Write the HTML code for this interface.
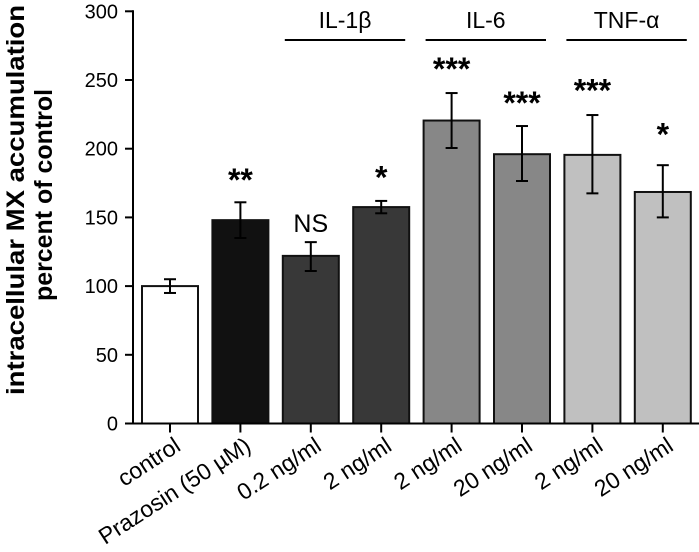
<!DOCTYPE html>
<html><head><meta charset="utf-8"><style>
html,body{margin:0;padding:0;background:#fff;}
svg{display:block;font-family:"Liberation Sans",sans-serif;}
</style></head><body>
<svg id="chart" width="699" height="552"></svg>
<script>
const categories = ["control","Prazosin (50 \u00b5M)","0.2 ng/ml","2 ng/ml","2 ng/ml","20 ng/ml","2 ng/ml","20 ng/ml"];
const values = [100,148,122,157.5,220.5,196,195.5,168.5];
const errHigh = [105,161,132,162,240.5,216.5,224.5,188];
const errLow = [95,135,111,153,200.5,176.5,167.5,150];
const sigLabels = ["","**","NS","*","***","***","***","*"];
const sigValues = [0,183,146,185,264,239,248,216];
const fills = ["#ffffff","#111111","#383838","#383838","#878787","#878787","#c0c0c0","#c0c0c0"];
const yTicks = [0,50,100,150,200,250,300];
const groups = [{name:"IL-1\u03b2",from:2,to:3},{name:"IL-6",from:4,to:5},{name:"TNF-\u03b1",from:6,to:7}];

const NS="http://www.w3.org/2000/svg";
const svg=document.getElementById('chart');
const y0=423.5, pxPer=1.374;
function yScale(v){return y0 - v*pxPer;}
function xCenter(i){return 170 + 70.4*i;}
const barW=56;
function mk(tag,attrs,parent){const e=document.createElementNS(NS,tag);for(const k in attrs)e.setAttribute(k,attrs[k]);(parent||svg).appendChild(e);return e;}

values.forEach((v,i)=>{
  const r=mk('rect',{x:xCenter(i)-barW/2,y:yScale(v),width:barW,height:y0-yScale(v),fill:fills[i],stroke:'#111','stroke-width':2});
  
  
  const g=mk('g',{stroke:'#000','stroke-width':2});
  
  
  const cx=xCenter(i);
  mk('line',{x1:cx,x2:cx,y1:yScale(errHigh[i]),y2:yScale(errLow[i])},g);
  mk('line',{x1:cx-6,x2:cx+6,y1:yScale(errHigh[i]),y2:yScale(errHigh[i])},g);
  mk('line',{x1:cx-6,x2:cx+6,y1:yScale(errLow[i]),y2:yScale(errLow[i])},g);
  if(sigLabels[i]){
    const isNS=sigLabels[i]==='NS';
    const t=mk('text',{x:cx,y:yScale(sigValues[i])+(isNS?9:19),'text-anchor':'middle','font-size':isNS?25:32,'font-weight':isNS?'normal':'bold',fill:'#000'});
    t.textContent=sigLabels[i];
    
    
  }
  const lbl=mk('text',{x:0,y:0,'text-anchor':'end','font-size':23,fill:'#000',transform:`translate(${cx+12},${y0+26}) rotate(-33)`});
  lbl.textContent=categories[i];
  
  
  const tk=mk('line',{x1:cx,x2:cx,y1:y0,y2:y0+9,stroke:'#000','stroke-width':2});
  
  
});

const ya=mk('line',{x1:133,x2:133,y1:yScale(300)-1,y2:y0+1,stroke:'#000','stroke-width':2});


const xa=mk('line',{x1:132,x2:699,y1:y0,y2:y0,stroke:'#000','stroke-width':2});


yTicks.forEach(v=>{
  const l=mk('line',{x1:125,x2:133,y1:yScale(v),y2:yScale(v),stroke:'#000','stroke-width':2});
  
  
  const t=mk('text',{x:118,y:yScale(v)+7,'text-anchor':'end','font-size':20,fill:'#000'});
  t.textContent=v;
  
  
});

groups.forEach(gr=>{
  const x1=xCenter(gr.from)-barW/2+2, x2=xCenter(gr.to)+barW/2-4;
  const l=mk('line',{x1:x1,x2:x2,y1:40,y2:40,stroke:'#000','stroke-width':2});
  
  
  const t=mk('text',{x:(x1+x2)/2,y:28,'text-anchor':'middle','font-size':23,fill:'#000'});
  t.textContent=gr.name;
  
  
});

const t1=mk('text',{x:0,y:0,'text-anchor':'middle','font-size':25,'font-weight':'bold',fill:'#000',textLength:390,lengthAdjust:'spacingAndGlyphs',transform:'translate(24,200) rotate(-90)'});
t1.textContent='intracellular MX accumulation';


const t2=mk('text',{x:0,y:0,'text-anchor':'middle','font-size':25,'font-weight':'bold',fill:'#000',textLength:212,lengthAdjust:'spacingAndGlyphs',transform:'translate(52,195) rotate(-90)'});
t2.textContent='percent of control';


</script>
</body></html>
